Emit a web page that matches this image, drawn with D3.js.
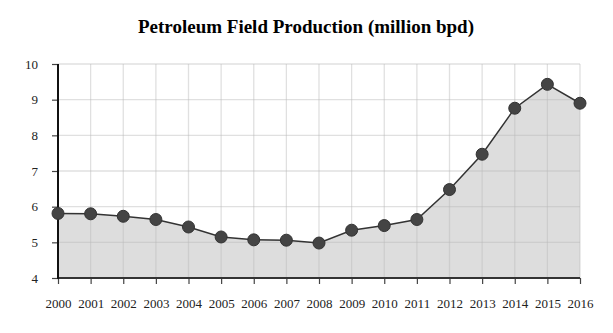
<!DOCTYPE html>
<html><head><meta charset="utf-8">
<script src="https://cdn.jsdelivr.net/npm/d3@7"></script>
<style>body{margin:0;background:#fff}svg{display:block}</style>
</head><body>
<script>
const years = [2000,2001,2002,2003,2004,2005,2006,2007,2008,2009,2010,2011,2012,2013,2014,2015,2016];
const production = [5.81,5.80,5.73,5.64,5.43,5.15,5.07,5.06,4.98,5.34,5.47,5.64,6.48,7.47,8.76,9.43,8.90];
const yTicks = [4,5,6,7,8,9,10];
const title = "Petroleum Field Production (million bpd)";

const W=613,H=333, m={l:58,r:33,t:64,b:55};
const svg=d3.select("body").append("svg").attr("width",W).attr("height",H);
const x=d3.scaleLinear().domain([2000,2016]).range([m.l,W-m.r]);
const y=d3.scaleLinear().domain([4,10]).range([H-m.b,m.t]);
const data=years.map((yr,i)=>({yr,v:production[i]}));

svg.append("text").attr("x",306).attr("y",33).attr("text-anchor","middle")
  .style("font-family","Liberation Serif, serif").style("font-weight","bold").style("font-size","19px")
  .text(title);

// area
svg.append("path").datum(data).attr("fill","#dddddd")
  .attr("d",d3.area().x(d=>x(d.yr)).y0(y(4)).y1(d=>y(d.v)));

// grid
const g=svg.append("g");
g.selectAll("line.h").data(yTicks).join("line").attr("x1",m.l).attr("x2",W-m.r)
  .attr("y1",d=>y(d)).attr("y2",d=>y(d)).attr("stroke","#bbb").attr("stroke-opacity",0.45).attr("stroke-width",1.3);
g.selectAll("line.v").data(years).join("line").attr("y1",y(4)).attr("y2",y(10))
  .attr("x1",d=>x(d)).attr("x2",d=>x(d)).attr("stroke","#bbb").attr("stroke-opacity",0.45).attr("stroke-width",1.3);

// axes
const ya=svg.append("g").attr("transform",`translate(${m.l},0)`)
  .call(d3.axisLeft(y).tickValues(yTicks).tickSize(6).tickPadding(14).tickFormat(d3.format("d")));
const xa=svg.append("g").attr("transform",`translate(0,${y(4)})`)
  .call(d3.axisBottom(x).tickValues(years).tickSize(6).tickPadding(15).tickFormat(d3.format("d")));
[ya,xa].forEach(a=>{
  a.select(".domain").remove();
  a.selectAll("line").attr("stroke","#444").attr("stroke-width",1.2);
  a.selectAll("text").style("font-family","Liberation Serif, serif").style("font-size","13px").attr("fill","#222");
});
svg.append("line").attr("x1",m.l).attr("x2",W-m.r).attr("y1",y(4)).attr("y2",y(4)).attr("stroke","#333").attr("stroke-width",2);
svg.append("line").attr("x1",m.l).attr("x2",m.l).attr("y1",y(4)+1).attr("y2",y(10)).attr("stroke","#111").attr("stroke-width",2);

// line
svg.append("path").datum(data).attr("fill","none").attr("stroke","#333").attr("stroke-width",1.5)
  .attr("d",d3.line().x(d=>x(d.yr)).y(d=>y(d.v)));
svg.selectAll("circle").data(data).join("circle").attr("cx",d=>x(d.yr)).attr("cy",d=>y(d.v))
  .attr("r",6).attr("fill","#444").attr("stroke","#333").attr("stroke-width",1);
</script>
</body></html>
